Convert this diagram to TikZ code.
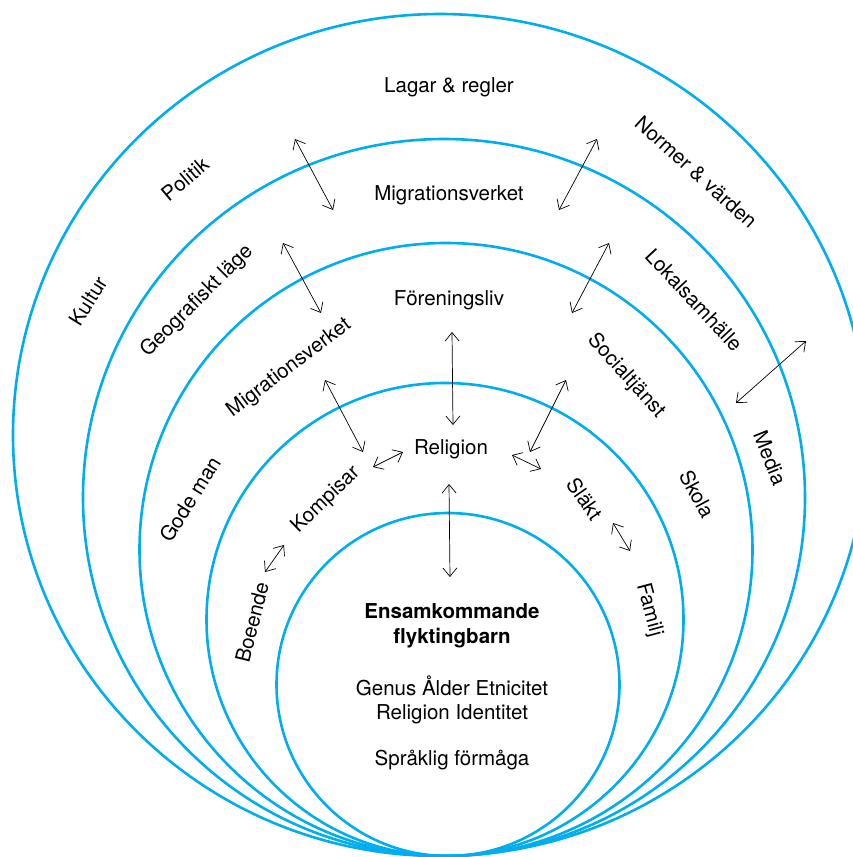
\documentclass[tikz,border=0pt]{standalone}
\usepackage{fontspec}
\setmainfont{TeX Gyre Heros}
\usetikzlibrary{arrows.meta}
\definecolor{ringblue}{RGB}{0,174,239}

\begin{document}
\begin{tikzpicture}[x=1pt, y=-1pt,
    ring/.style={draw=ringblue, line width=2.6pt},
    lbl/.style={font=\fontsize{20.5}{24}\selectfont, inner sep=0pt},
    dbl/.style={{Straight Barb[length=8.5pt,width=14pt]}-{Straight Barb[length=8.5pt,width=14pt]}, line width=0.7pt}]
    \useasboundingbox (0,0) rectangle (852,857);

    % rings, all touching at the bottom
    \draw[ring] (440,435)ellipse[x radius=427, y radius=421];
    \draw[ring] (444,497.5)ellipse[x radius=361, y radius=358.5];
    \draw[ring] (446,549.5)circle[radius=306.5];
    \draw[ring] (445,619.5)ellipse[x radius=238.5, y radius=236.5];
    \draw[ring] (448,684.5)circle[radius=171.5];

    \path
    (449,87)node[lbl](lagar){Lagar \& regler}
    (185,179)node[lbl, rotate=40](politik){Politik}
    (88,301)node[lbl, rotate=58](kultur){Kultur}
    (696,172)node[lbl, rotate=-42](normer){Normer \& värden}
    (770,458)node[lbl, rotate=-68](media){Media}

    (449,195)node[lbl](migrtop){Migrationsverket}
    (197,301)node[lbl, rotate=45](geo){Geografiskt läge}
    (694,300)node[lbl, rotate=-47](lokal){Lokalsamhälle}

    (449,300)node[lbl](foren){Föreningsliv}
    (289,368)node[lbl, rotate=37](migrleft){Migrationsverket}
    (190,499)node[lbl, rotate=58](gode){Gode man}
    (626,376)node[lbl, rotate=-48](social){Socialtjänst}
    (697,494)node[lbl, rotate=-62](skola){Skola}

    (451,449)node[lbl](relig){Religion}
    (326,500)node[lbl, rotate=44](kompis){Kompisar}
    (252,622)node[lbl, rotate=76](boende){Boeende}
    (585,499)node[lbl, rotate=-55](slakt){Släkt}
    (649,610)node[lbl, rotate=-75](familj){Familj}

    (452,626)node[lbl, font=\fontsize{20.5}{25}\selectfont\bfseries, align=center](barn){Ensamkommande\\flyktingbarn}
    (452,700)node[lbl, align=center](genus){Genus Ålder Etnicitet\\Religion Identitet}
    (452,760)node[lbl](sprak){Språklig förmåga}
    ;

    % arrow ends
    \path
    (295,139)coordinate(p1a) (333,210)coordinate(p1b)
    (597,139)coordinate(p2a) (559,210)coordinate(p2b)
    (283,243)coordinate(p3a) (321,313)coordinate(p3b)
    (609,243)coordinate(p4a) (572,313)coordinate(p4b)
    (806,341)coordinate(p5a) (736,403)coordinate(p5b)
    (452,332)coordinate(p6a) (453,425)coordinate(p6b)
    (325,380)coordinate(p7a) (363,452)coordinate(p7b)
    (566,380)coordinate(p8a) (530,452)coordinate(p8b)
    (373,467)coordinate(p9a) (403,452)coordinate(p9b)
    (512,455)coordinate(p10a) (541,469)coordinate(p10b)
    (449,484)coordinate(p11a) (450,577)coordinate(p11b)
    (265,572)coordinate(p12a) (284,545)coordinate(p12b)
    (613,523)coordinate(p13a) (630,551)coordinate(p13b)
    ;

    \draw[dbl] (p1a)--(p1b);
    \draw[dbl] (p2a)--(p2b);
    \draw[dbl] (p3a)--(p3b);
    \draw[dbl] (p4a)--(p4b);
    \draw[dbl] (p5a)--(p5b);
    \draw[dbl] (p6a)--(p6b);
    \draw[dbl] (p7a)--(p7b);
    \draw[dbl] (p8a)--(p8b);
    \draw[dbl] (p9a)--(p9b);
    \draw[dbl] (p10a)--(p10b);
    \draw[dbl] (p11a)--(p11b);
    \draw[dbl] (p12a)--(p12b);
    \draw[dbl] (p13a)--(p13b);
\end{tikzpicture}
\end{document}
